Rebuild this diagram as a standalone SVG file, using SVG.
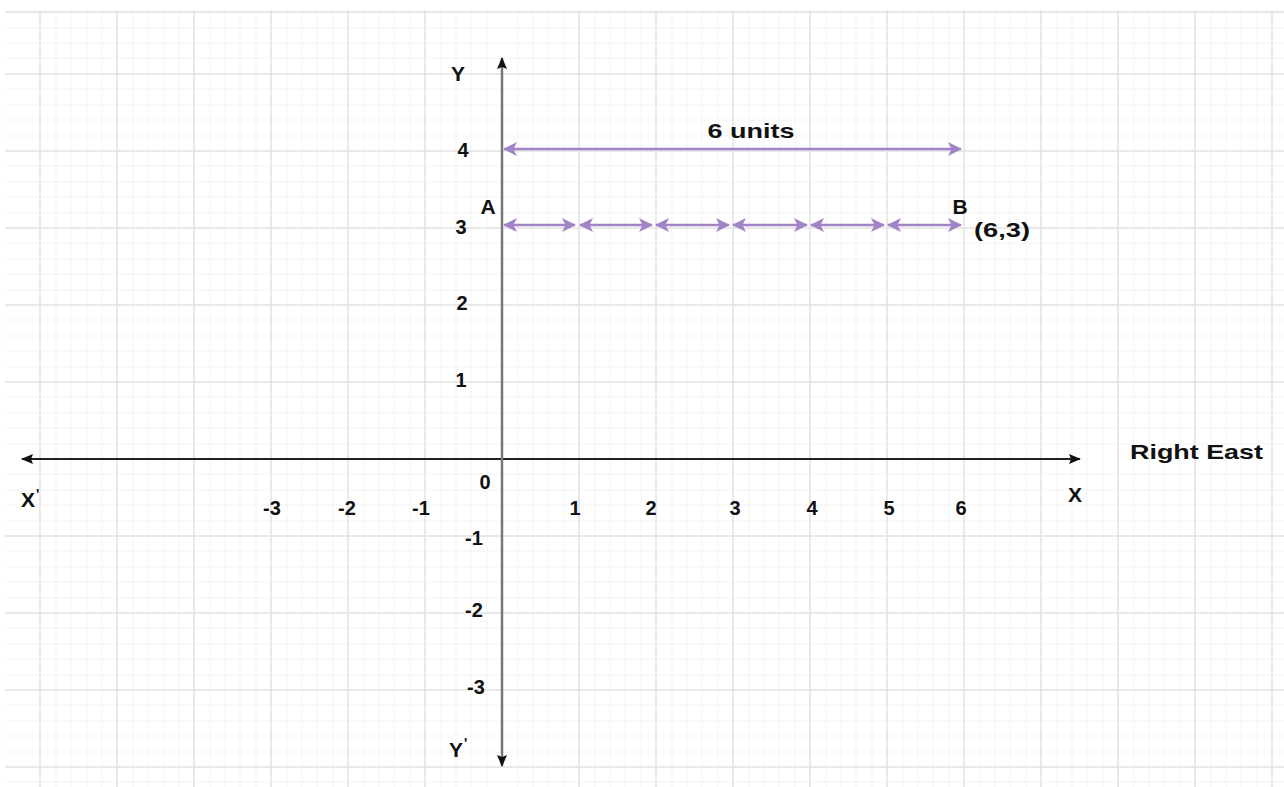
<svg xmlns="http://www.w3.org/2000/svg" width="1284" height="787" viewBox="0 0 1284 787">
<defs>
<style>
.t{font-family:"Liberation Sans",Arial,sans-serif;font-weight:bold;fill:#111;}
.lbl{font-size:21px;}
.num{font-size:20px;}
.maj{stroke:#e2e2e2;stroke-width:1.5;}
.min{stroke:#f3f3f3;stroke-width:1;}
.pur{stroke:#a283c6;stroke-width:2.5;fill:none;}
</style>
<marker id="pa" viewBox="0 0 14 14" refX="13" refY="7" markerWidth="14" markerHeight="14" markerUnits="userSpaceOnUse" orient="auto-start-reverse">
<path d="M0,0 L14,7 L0,14 L3.5,7 Z" fill="#a283c6"/>
</marker>
<marker id="ka" viewBox="0 0 12 12" refX="11" refY="6" markerWidth="12" markerHeight="12" markerUnits="userSpaceOnUse" orient="auto">
<path d="M0,1 L12,6 L0,11 L2,6 Z" fill="#111"/>
</marker>
</defs>
<rect width="1284" height="787" fill="#ffffff"/>
<g id="grid">
<g class="min">
<path d="M5,28H1284M5,43H1284M5,58H1284M5,89H1284M5,105H1284M5,120H1284M5,136H1284M5,166H1284M5,182H1284M5,197H1284M5,213H1284M5,243H1284M5,259H1284M5,274H1284M5,290H1284M5,320H1284M5,336H1284M5,351H1284M5,367H1284M5,397H1284M5,413H1284M5,428H1284M5,444H1284M5,474H1284M5,490H1284M5,505H1284M5,521H1284M5,551H1284M5,567H1284M5,582H1284M5,598H1284M5,628H1284M5,644H1284M5,659H1284M5,675H1284M5,705H1284M5,721H1284M5,736H1284M5,752H1284M5,782H1284"/>
<path d="M56,10V787M71,10V787M87,10V787M102,10V787M133,10V787M148,10V787M164,10V787M179,10V787M210,10V787M225,10V787M240,10V787M256,10V787M287,10V787M302,10V787M317,10V787M333,10V787M364,10V787M379,10V787M394,10V787M410,10V787M441,10V787M456,10V787M471,10V787M487,10V787M518,10V787M533,10V787M548,10V787M564,10V787M595,10V787M610,10V787M625,10V787M641,10V787M672,10V787M687,10V787M702,10V787M718,10V787M749,10V787M764,10V787M779,10V787M795,10V787M826,10V787M841,10V787M856,10V787M872,10V787M903,10V787M918,10V787M933,10V787M949,10V787M980,10V787M995,10V787M1010,10V787M1026,10V787M1057,10V787M1072,10V787M1087,10V787M1103,10V787M1134,10V787M1149,10V787M1164,10V787M1180,10V787M1211,10V787M1226,10V787M1241,10V787M1257,10V787"/>
</g>
<g class="maj">
<path d="M5,12H1284M5,74H1284M5,151H1284M5,228H1284M5,305H1284M5,382H1284M5,536H1284M5,613H1284M5,690H1284M5,767H1284"/>
<path d="M40,10V787M117,10V787M194,10V787M271,10V787M348,10V787M425,10V787M579,10V787M656,10V787M733,10V787M810,10V787M887,10V787M964,10V787M1041,10V787M1118,10V787M1195,10V787M1272,10V787"/>
</g>
</g>
<g id="connectors">
<line id="x-axis-left" x1="502" y1="459" x2="22" y2="459" stroke="#222" stroke-width="2" marker-end="url(#ka)"/>
<line id="x-axis-right" x1="502" y1="459" x2="1080" y2="459" stroke="#222" stroke-width="2" marker-end="url(#ka)"/>
<line id="y-axis-up" x1="502" y1="459" x2="502" y2="58" stroke="#777" stroke-width="2.5" marker-end="url(#ka)"/>
<line id="y-axis-down" x1="502" y1="459" x2="502" y2="766" stroke="#777" stroke-width="2.5" marker-end="url(#ka)"/>
<line id="six-units" class="pur" x1="504" y1="149" x2="961" y2="149" marker-start="url(#pa)" marker-end="url(#pa)"/>
<line class="pur" x1="504" y1="225" x2="575" y2="225" marker-start="url(#pa)" marker-end="url(#pa)"/>
<line class="pur" x1="580" y1="225" x2="652" y2="225" marker-start="url(#pa)" marker-end="url(#pa)"/>
<line class="pur" x1="656" y1="225" x2="729" y2="225" marker-start="url(#pa)" marker-end="url(#pa)"/>
<line class="pur" x1="733" y1="225" x2="807" y2="225" marker-start="url(#pa)" marker-end="url(#pa)"/>
<line class="pur" x1="811" y1="225" x2="884" y2="225" marker-start="url(#pa)" marker-end="url(#pa)"/>
<line class="pur" x1="888" y1="225" x2="961" y2="225" marker-start="url(#pa)" marker-end="url(#pa)"/>
</g>
<g id="labels" class="t">
<text class="lbl" x="458" y="81" text-anchor="middle">Y</text>
<text class="lbl" x="456" y="757" text-anchor="middle">Y</text>
<text x="464" y="748" font-size="14">'</text>
<text class="lbl" x="28" y="507" text-anchor="middle">X</text>
<text x="36" y="499" font-size="14">'</text>
<text class="lbl" x="1075" y="502" text-anchor="middle">X</text>
<text class="lbl" x="1130" y="459" textLength="133" lengthAdjust="spacingAndGlyphs">Right East</text>
<text class="lbl" x="751" y="138" text-anchor="middle" textLength="87" lengthAdjust="spacingAndGlyphs">6 units</text>
<text class="lbl" x="488" y="214" text-anchor="middle">A</text>
<text class="lbl" x="960" y="214" text-anchor="middle">B</text>
<text class="lbl" x="1002" y="237" text-anchor="middle" textLength="56" lengthAdjust="spacingAndGlyphs">(6,3)</text>
<g class="num" text-anchor="middle">
<text x="463" y="157">4</text>
<text x="461" y="234">3</text>
<text x="462" y="310">2</text>
<text x="461" y="387">1</text>
<text x="485" y="489">0</text>
<text x="474" y="545">-1</text>
<text x="474" y="617">-2</text>
<text x="476" y="694">-3</text>
<text x="272" y="515">-3</text>
<text x="347" y="515">-2</text>
<text x="421" y="515">-1</text>
<text x="575" y="515">1</text>
<text x="651" y="515">2</text>
<text x="735" y="515">3</text>
<text x="812" y="515">4</text>
<text x="889" y="515">5</text>
<text x="961" y="515">6</text>
</g>
</g>
</svg>
